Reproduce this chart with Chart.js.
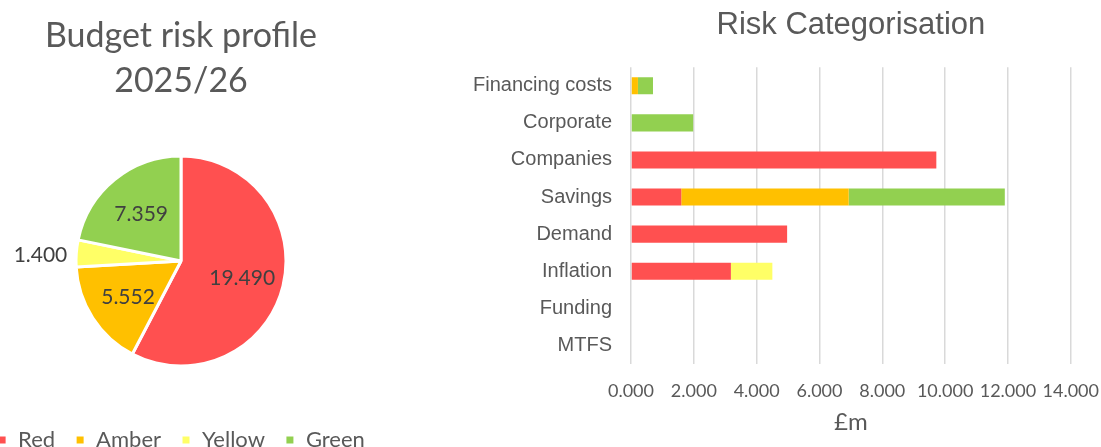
<!DOCTYPE html>
<html>
<head>
<meta charset="utf-8">
<title>Budget risk</title>
<script src="https://cdn.jsdelivr.net/npm/chart.js@4/dist/chart.umd.min.js"></script>
<style>
    html, body { margin: 0; padding: 0; background: #fff; }
    body { width: 1101px; height: 447px; overflow: hidden; position: relative; }
    .pie-box { position: absolute; left: -40px; top: 0; width: 452px; height: 461px; }
    .bar-box { position: absolute; left: 440px; top: 0; width: 675px; height: 447px; }
</style>
</head>
<body>
<div class="pie-box"><canvas id="pie"></canvas></div>
<div class="bar-box"><canvas id="bar"></canvas></div>
<script>
// rating bands, same order in both charts
const RATINGS = ['Red', 'Amber', 'Yellow', 'Green'];
const COLORS = ['#FF5050', '#FFC000', '#FFFF66', '#92D050'];

// pie: total £m per rating 2025/26
const riskTotals = [19.490, 5.552, 1.400, 7.359];

// bars: £m per category, one array per rating
const categories = ['Financing costs', 'Corporate', 'Companies', 'Savings', 'Demand', 'Inflation', 'Funding', 'MTFS'];
const redValues    = [0,    0,    9.72, 1.60, 4.97, 3.18, 0, 0];
const amberValues  = [0.22, 0,    0,    5.33, 0,    0,    0, 0];
const yellowValues = [0,    0,    0,    0,    0,    1.32, 0, 0];
const greenValues  = [0.48, 1.98, 0,    4.97, 0,    0,    0, 0];

const xTicks = [0, 2, 4, 6, 8, 10, 12, 14];

const TEXT = '#595959';

// value labels on the slices, small slices go outside on the left
const pieLabels = {
    id: 'pieLabels',
    afterDatasetsDraw(chart) {
        const ctx = chart.ctx;
        const meta = chart.getDatasetMeta(0);
        const total = riskTotals.reduce((a, b) => a + b, 0);
        ctx.save();
        ctx.font = '21px Lato';
        ctx.fillStyle = '#404040';
        ctx.textBaseline = 'middle';
        meta.data.forEach((arc, i) => {
            const p = arc.getProps(['x', 'y', 'startAngle', 'endAngle', 'outerRadius']);
            const mid = (p.startAngle + p.endAngle) / 2;
            const text = riskTotals[i].toFixed(3);
            if (riskTotals[i] / total < 0.06) {
                const r = p.outerRadius + 9;
                ctx.textAlign = 'right';
                ctx.fillText(text, p.x + Math.cos(mid) * r, p.y + Math.sin(mid) * r + 3);
            } else {
                const r = p.outerRadius * 0.6;
                ctx.textAlign = 'center';
                ctx.fillText(text, p.x + Math.cos(mid) * r, p.y + Math.sin(mid) * r + 2);
            }
        });
        ctx.restore();
    }
};

new Chart(document.getElementById('pie'), {
    type: 'pie',
    data: {
        labels: RATINGS,
        datasets: [{
            data: riskTotals,
            backgroundColor: COLORS,
            borderColor: '#fff',
            borderWidth: 3
        }]
    },
    options: {
        responsive: true,
        maintainAspectRatio: false,
        animation: false,
        radius: 105,
        layout: { padding: { right: 10 } },
        plugins: {
            title: {
                display: true,
                text: ['Budget risk profile', '2025/26'],
                color: TEXT,
                font: { family: 'Lato', size: 34, weight: 'normal', lineHeight: 1.3235 },
                padding: { top: 14, bottom: 9 }
            },
            legend: {
                position: 'bottom',
                labels: {
                    color: TEXT,
                    font: { family: 'Lato', size: 22 },
                    boxWidth: 10,
                    boxHeight: 10,
                    padding: 20
                }
            },
            tooltip: { enabled: false }
        }
    },
    plugins: [pieLabels]
});

const bands = [redValues, amberValues, yellowValues, greenValues];

new Chart(document.getElementById('bar'), {
    type: 'bar',
    data: {
        labels: categories,
        datasets: bands.map((vals, i) => ({
            label: RATINGS[i],
            data: vals,
            backgroundColor: COLORS[i],
            barPercentage: 0.46,
            categoryPercentage: 1
        }))
    },
    options: {
        indexAxis: 'y',
        responsive: true,
        maintainAspectRatio: false,
        animation: false,
        layout: { padding: { right: 18 } },
        scales: {
            x: {
                stacked: true,
                min: 0,
                max: 14,
                afterBuildTicks: scale => { scale.ticks = xTicks.map(v => ({ value: v })); },
                afterFit: scale => { scale.height = 83; },
                grid: { color: '#D9D9D9', lineWidth: 1.5, drawTicks: false },
                border: { display: false },
                ticks: {
                    color: TEXT,
                    font: { family: 'Lato', size: 18 },
                    padding: 16,
                    maxRotation: 0,
                    minRotation: 0,
                    autoSkip: false,
                    callback: v => Number(v).toFixed(3)
                },
                title: {
                    display: true,
                    text: '£m',
                    color: TEXT,
                    font: { family: 'Lato', size: 24 },
                    padding: { top: 0, bottom: 10 }
                }
            },
            y: {
                stacked: true,
                afterFit: scale => { scale.width = 191; },
                grid: { display: false, drawTicks: false },
                border: { display: false },
                ticks: {
                    color: TEXT,
                    font: { family: 'Liberation Sans', size: 20 },
                    padding: 19
                }
            }
        },
        plugins: {
            title: {
                display: true,
                fullSize: false,
                text: 'Risk Categorisation',
                color: TEXT,
                font: { family: 'Liberation Sans', size: 31, weight: 'normal' },
                padding: { top: 7, bottom: 23 }
            },
            legend: { display: false },
            tooltip: { enabled: false }
        }
    }
});
</script>
</body>
</html>
